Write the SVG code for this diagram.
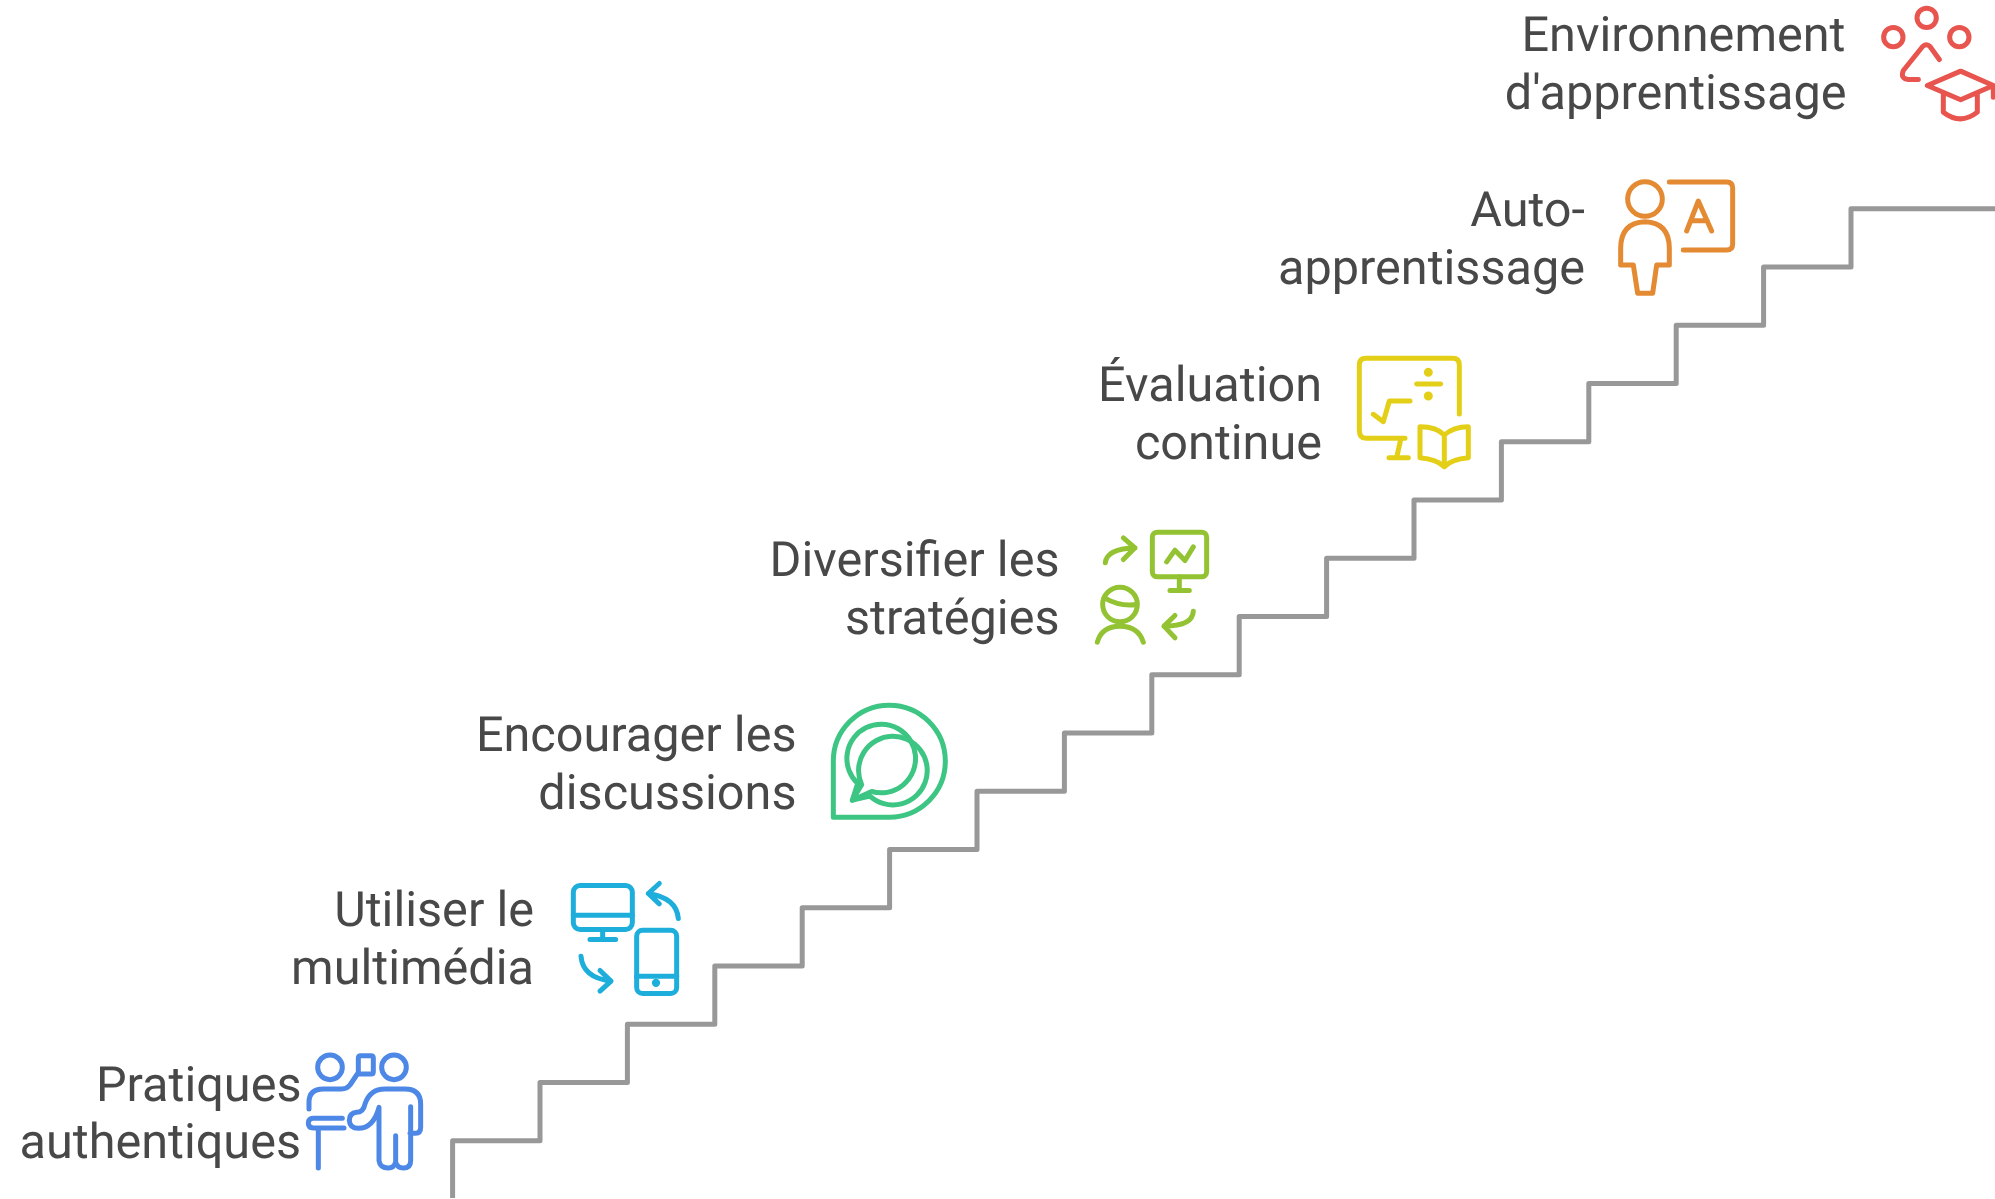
<svg xmlns="http://www.w3.org/2000/svg" width="1995" height="1199" viewBox="0 0 1995 1199">
<style>
text{font-family:Roboto,"Liberation Sans",sans-serif;font-size:48.6px;fill:#484848;text-anchor:end;text-rendering:geometricPrecision}
.i{fill:none;stroke-width:15;stroke-linecap:round;stroke-linejoin:round}
#stairs path{fill:none;stroke:#989898;stroke-width:5;stroke-linejoin:round}
</style>
<rect width="1995" height="1199" fill="#fff"/>
<g id="stairs"><path transform="translate(.6 -1)" d="M452 1199V1141.7H539.4V1083.5H626.8V1025.2H714.2V967H801.6V908.7H889V850.5H976.4V792.2H1063.8V734H1151.2V675.7H1238.6V617.5H1326V559.2H1413.4V501H1500.8V442.7H1588.2V384.5H1675.6V326.2H1763V268H1850.4V209.7H1995"/></g>
<g id="n1"><text x="301.5" y="1101">Pratiques</text><text x="301" y="1158">authentiques</text>
<g class="i" stroke="#4E88E7" transform="translate(295 1039) scale(.3333)"><circle cx="105" cy="85" r="37"/><circle cx="297" cy="85" r="37"/><path d="M42 210V190Q42 150 85 150H140Q155 150 165 138L187 105H228Q235 105 235 98V57Q235 50 228 50H197Q190 50 190 57V105"/><path d="M142 238H55Q40 238 40 253Q40 267 55 267H147M70 267V387"/><path d="M345 283H362Q377 283 377 265V195Q377 150 330 150H270Q225 150 210 195Q205 220 185 220Q163 222 163 245Q165 268 190 268Q235 268 252 205V365Q255 387 280 387Q297 387 302 370V290M302 370Q307 387 325 387Q347 387 347 365V203"/></g></g>
<g id="n2"><text x="534" y="926">Utiliser le</text><text x="534" y="984">multimédia</text>
<g class="i" stroke="#1EAEDB" transform="translate(560 869.5) scale(.3333)"><rect x="40" y="48" width="177" height="132" rx="20"/><path d="M40 137H217M128 180V210M90 210H167"/><rect x="230" y="182" width="120" height="190" rx="18"/><path d="M230 320H350"/><circle cx="288" cy="340" r="5" fill="#1EAEDB"/><path d="M355 147Q350 85 265 72M298 42L265 72L298 103M63 260Q68 325 153 335M120 303L153 335L120 365"/></g></g>
<g id="n3"><text x="796.5" y="751">Encourager les</text><text x="796.5" y="809">discussions</text>
<g class="i" stroke="#3CC583" transform="translate(825 695.5) scale(.3333)"><path d="M25 365V198A168 168 0 1 1 193 365Z"/><path d="M82 314L98 264A103 103 0 1 1 140 288Z"/><path d="M82 314L110 268A103 103 0 1 1 135 302Z"/></g></g>
<g id="n4"><text x="1059.5" y="576">Diversifier les</text><text x="1059.5" y="634">stratégies</text>
<g class="i" stroke="#93C332" transform="translate(1070 509.5) scale(.3333)"><rect x="247" y="68" width="163" height="134" rx="15"/><path d="M328 202V243M300 243H358M290 157L315 122L345 153L370 112M106 160Q110 118 195 115M160 85L195 115L160 150"/><circle cx="150" cy="285" r="52"/><path d="M103 265Q150 292 200 285M82 398Q95 350 150 350Q205 350 220 398M370 305Q368 350 282 350M315 318L282 350L315 385"/></g></g>
<g id="n5"><text x="1322" y="401">Évaluation</text><text x="1322" y="459">continue</text>
<g class="i" stroke="#E3CF17" transform="translate(1340 345) scale(.3333)"><path d="M358 207V60Q358 40 338 40H78Q58 40 58 60V255Q58 280 78 280H195M183 280L170 338M147 338H205M100 208L130 230L148 168H210M230 117H302"/><circle cx="265" cy="82" r="6" fill="#E3CF17"/><circle cx="265" cy="153" r="6" fill="#E3CF17"/><path d="M240 245V338Q290 342 313 365Q335 342 385 338V245Q340 245 313 270Q290 245 240 245ZM313 270V365"/></g></g>
<g id="n6"><text x="1585" y="226">Auto-</text><text x="1585" y="284">apprentissage</text>
<g class="i" stroke="#E48A33" transform="translate(1600 170) scale(.3333)"><circle cx="135" cy="87" r="52"/><path d="M135 155Q62 158 62 235V285H100L113 370H158L170 285H208V235Q208 158 135 155ZM208 36H380Q398 36 398 54V222Q398 240 380 240H250M260 183L295 93L335 183M272 152H322"/></g></g>
<g id="n7"><text x="1845.5" y="51">Environnement</text><text x="1846.5" y="109">d'apprentissage</text>
<g class="i" stroke="#E8554E" transform="translate(1865 .5) scale(.3333)"><circle cx="85" cy="110" r="29"/><circle cx="185" cy="52" r="29"/><circle cx="283" cy="110" r="29"/><path d="M223 177L195 138Q185 127 173 138L115 210Q105 235 130 237H160M187 255L287 212L385 255L287 298ZM235 282V335Q287 375 337 335V282M385 255V290"/></g></g>
</svg>
